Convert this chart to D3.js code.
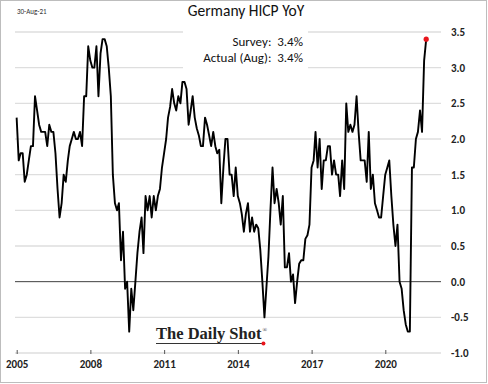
<!DOCTYPE html>
<html>
<head>
<meta charset="utf-8">
<script src="https://cdn.jsdelivr.net/npm/d3@7"></script>
<style>
  body { margin: 0; background: #fff; }
  svg { display: block; font-family: Calibri, Carlito, Lato, sans-serif; }
</style>
</head>
<body>
<svg id="chart" width="488" height="384"></svg>
<script>
// Germany HICP YoY (%), monthly, first value is Dec 2004, last is Aug 2021
const firstMonth = [2004, 11]
const hicp = [
  2.3,
  1.7, 1.8, 1.8, 1.4, 1.5, 1.7, 1.9, 1.9, 2.6, 2.4, 2.2, 2.1,
  2.1, 2.1, 1.9, 2.2, 2.1, 2.1, 1.8, 1.3, 0.9, 1.1, 1.5, 1.4,
  1.7, 1.9, 2.0, 2.1, 2.0, 2.0, 2.1, 1.9, 2.6, 2.6, 3.3, 3.1,
  3.0, 3.0, 3.3, 2.6, 3.2, 3.4, 3.4, 3.3, 3.0, 2.6, 1.5, 1.1,
  1.0, 1.1, 0.3, 0.7, -0.1, 0.0, -0.7, -0.1, -0.4, 0.0, 0.4, 0.7,
  0.9, 0.4, 1.2, 1.0, 1.2, 0.9, 1.2, 1.0, 1.2, 1.3, 1.6, 1.8,
  2.0, 2.3, 2.45, 2.7, 2.5, 2.4, 2.6, 2.5, 2.8, 2.8, 2.7, 2.2,
  2.4, 2.6, 2.3, 2.15, 2.05, 1.9, 1.9, 2.3, 2.2, 2.05, 1.9, 2.1,
  1.9, 1.8, 1.85, 1.1, 1.6, 2.0, 2.0, 1.5, 1.5, 1.2, 1.6, 1.2,
  1.1, 0.95, 0.7, 0.95, 1.1, 0.7, 0.9, 0.7, 0.8, 0.75, 0.45, 0.0,
  -0.5, -0.1, 0.35, 1.0, 1.6, 1.1, 1.3, 1.1, 0.8, 1.2, 0.2, 0.2,
  0.4, 0.0, 0.1, -0.3, 0.0, 0.25, 0.3, 0.3, 0.6, 0.65, 0.8, 1.6,
  1.7, 2.1, 1.6, 2.0, 1.3, 1.7, 1.7, 1.9, 1.9, 1.5, 1.7, 1.5,
  1.5, 1.2, 1.7, 1.3, 2.5, 2.1, 2.2, 2.1, 2.2, 2.6, 2.1, 1.7,
  1.7, 1.7, 1.4, 2.1, 1.3, 1.5, 1.1, 1.0, 0.9, 0.9, 1.2, 1.5,
  1.6, 1.7, 1.2, 0.8, 0.5, 0.8, 0.0, -0.1, -0.4, -0.6, -0.7, -0.7,
  1.6, 1.6, 2.0, 2.1, 2.4, 2.1, 3.1, 3.4
]
const yTicks = [3.5, 3.0, 2.5, 2.0, 1.5, 1.0, 0.5, 0.0, -0.5, -1.0]
const xYears = [2005, 2008, 2011, 2014, 2017, 2020]
const title = "Germany HICP YoY"
const dateStamp = "30-Aug-21"
const notes = ["Survey:\u00a0\u00a03.4%", "Actual (Aug):\u00a0\u00a03.4%"]
const logoText = "The Daily Shot"

const svg = d3.select("#chart")
const W = 488, H = 384
const plotLeft = 15, plotRight = 441

// month-end dates so Dec 2004 sits on the 2005 tick
const data = hicp.map((v, i) => ({
  date: new Date(firstMonth[0], firstMonth[1] + i + 1, 0),
  value: v
}))

const x = d3.scaleTime()
  .domain([new Date(2005, 0, 1), new Date(2020, 0, 1)])
  .range([16.7, 385.3])
const y = d3.scaleLinear()
  .domain([-1, 3.5])
  .range([353, 32])

// frame
svg.append("rect")
  .attr("x", 0.5).attr("y", 0.5)
  .attr("width", W - 2).attr("height", H - 2)
  .attr("fill", "#fff")
  .attr("stroke", "#bdbdbd")

// gridlines
svg.append("g")
  .selectAll("line")
  .data(yTicks)
  .join("line")
  .attr("x1", plotLeft).attr("x2", plotRight)
  .attr("y1", d => y(d)).attr("y2", d => y(d))
  .attr("stroke", d => d === 0 ? "#404040" : "#dedede")
  .attr("stroke-width", d => d === 0 ? 1 : 1.3)

// white box behind the survey note
svg.append("rect")
  .attr("x", 183).attr("y", 26)
  .attr("width", 125).attr("height", 46)
  .attr("fill", "#fff")

// y labels on the right
const fmt = d3.format(".1f")
svg.append("g")
  .selectAll("text")
  .data(yTicks)
  .join("text")
  .attr("x", 451)
  .attr("y", d => y(d))
  .attr("dy", "0.35em")
  .attr("font-size", 11)
  .attr("font-weight", "bold")
  .attr("fill", "#222")
  .text(d => fmt(d).replace("\u2212", "-"))

// x axis
const xAxis = svg.append("g")
  .attr("transform", `translate(0,350)`)
  .call(d3.axisBottom(x)
    .tickValues(xYears.map(yr => new Date(yr, 0, 1)))
    .tickFormat(d3.timeFormat("%Y"))
    .tickSize(4)
    .tickPadding(6))
xAxis.select(".domain").remove()
xAxis.selectAll(".tick line").attr("stroke", "#555")
xAxis.selectAll(".tick text")
  .attr("font-size", 11)
  .attr("font-weight", "bold")
  .attr("font-family", "Calibri, Carlito, Lato, sans-serif")
  .attr("fill", "#222")

// the series
const line = d3.line()
  .x(d => x(d.date))
  .y(d => y(d.value))
svg.append("path")
  .datum(data)
  .attr("d", line)
  .attr("fill", "none")
  .attr("stroke", "#000")
  .attr("stroke-width", 1.9)
  .attr("stroke-linejoin", "round")

const last = data[data.length - 1]
svg.append("circle")
  .attr("cx", x(last.date)).attr("cy", y(last.value))
  .attr("r", 2.6)
  .attr("fill", "#e8141b")

// texts
svg.append("text")
  .attr("x", 246).attr("y", 16)
  .attr("text-anchor", "middle")
  .attr("font-size", 15.5)
  .attr("fill", "#111")
  .text(title)

svg.append("text")
  .attr("x", 17).attr("y", 14)
  .attr("font-size", 7)
  .attr("fill", "#333")
  .text(dateStamp)

svg.append("g")
  .selectAll("text")
  .data(notes)
  .join("text")
  .attr("x", 303)
  .attr("y", (d, i) => 46 + i * 16)
  .attr("text-anchor", "end")
  .attr("font-size", 13)
  .attr("fill", "#111")
  .text(d => d)

// logo
const logo = svg.append("g")
const lt = logo.append("text")
  .attr("x", 156).attr("y", 339)
  .attr("font-family", "'Liberation Serif', 'DejaVu Serif', serif")
  .attr("font-size", 16.5)
  .attr("font-weight", "bold")
  .attr("fill", "#222")
  .text(logoText)
const bb = lt.node().getBBox()
logo.append("text")
  .attr("x", bb.x + bb.width + 0.5).attr("y", 332)
  .attr("font-family", "'Liberation Serif', serif")
  .attr("font-size", 6)
  .attr("fill", "#222")
  .text("\u00ae")
logo.append("line")
  .attr("x1", bb.x).attr("x2", bb.x + bb.width)
  .attr("y1", 343.5).attr("y2", 343.5)
  .attr("stroke", "#333")
  .attr("stroke-width", 1)
logo.append("circle")
  .attr("cx", bb.x + bb.width + 1.5).attr("cy", 343.5)
  .attr("r", 2)
  .attr("fill", "#e8141b")
</script>
</body>
</html>
